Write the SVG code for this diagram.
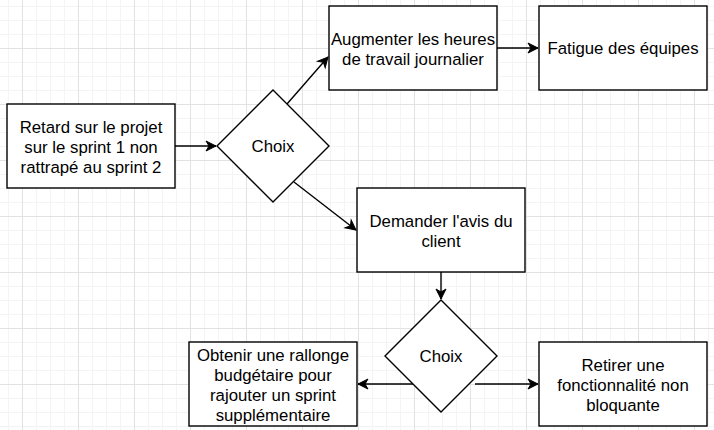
<svg xmlns="http://www.w3.org/2000/svg" width="714" height="430" viewBox="0 0 714 430">
<style>
  .box { fill: #ffffff; stroke: #000000; stroke-width: 1.4; }
  .lbl { font-family: "Liberation Sans", Arial, sans-serif; font-size: 16.8px; fill: #000000; text-anchor: middle; }
  .edge { fill: none; stroke: #000000; stroke-width: 1.4; marker-end: url(#arrow); }
</style>
<defs>
  <pattern id="grid" patternUnits="userSpaceOnUse" x="22" y="48" width="56" height="56">
    <rect x="14" y="0" width="1" height="56" fill="#f4f4f4"/>
    <rect x="28" y="0" width="1" height="56" fill="#f4f4f4"/>
    <rect x="42" y="0" width="1" height="56" fill="#f4f4f4"/>
    <rect x="0" y="14" width="56" height="1" fill="#f4f4f4"/>
    <rect x="0" y="28" width="56" height="1" fill="#f4f4f4"/>
    <rect x="0" y="42" width="56" height="1" fill="#f4f4f4"/>
    <rect x="0" y="0" width="1" height="56" fill="#e2e2e2"/>
    <rect x="0" y="0" width="56" height="1" fill="#e2e2e2"/>
  </pattern>
  <marker id="arrow" markerUnits="userSpaceOnUse" markerWidth="11" markerHeight="11" refX="10" refY="5" orient="auto" overflow="visible">
    <path d="M0,0 L10,5 L0,10 L3,5 Z" fill="#000000" stroke="#000000" stroke-width="1"/>
  </marker>
</defs>
<rect x="0" y="0" width="714" height="430" fill="#ffffff"/>
<rect x="0" y="0" width="714" height="430" fill="url(#grid)"/>

<g id="connectors">
  <line class="edge" x1="175" y1="146" x2="216" y2="146"/>
  <line class="edge" x1="287" y1="104" x2="328" y2="57"/>
  <line class="edge" x1="497" y1="48" x2="538" y2="48"/>
  <line class="edge" x1="294" y1="182" x2="356" y2="230"/>
  <line class="edge" x1="441" y1="272" x2="441" y2="299"/>
  <line class="edge" x1="413" y1="384" x2="358" y2="384"/>
  <line class="edge" x1="475" y1="384" x2="538" y2="384"/>
</g>

<g id="retard">
  <rect class="box" x="7" y="104" width="168" height="84"/>
  <text class="lbl" x="91" y="133">Retard sur le projet</text>
  <text class="lbl" x="91" y="153">sur le sprint 1 non</text>
  <text class="lbl" x="91" y="173">rattrapé au sprint 2</text>
</g>

<g id="choix1">
  <polygon class="box" points="273,90 329,146 273,202 217,146"/>
  <text class="lbl" x="273" y="152">Choix</text>
</g>

<g id="augmenter">
  <rect class="box" x="329" y="6" width="168" height="84"/>
  <text class="lbl" x="413" y="45">Augmenter les heures</text>
  <text class="lbl" x="413" y="65">de travail journalier</text>
</g>

<g id="fatigue">
  <rect class="box" x="539" y="6" width="168" height="84"/>
  <text class="lbl" x="623" y="54">Fatigue des équipes</text>
</g>

<g id="demander">
  <rect class="box" x="357" y="188" width="168" height="84"/>
  <text class="lbl" x="441" y="227">Demander l'avis du</text>
  <text class="lbl" x="441" y="247">client</text>
</g>

<g id="choix2">
  <polygon class="box" points="441,300 497,356 441,412 385,356"/>
  <text class="lbl" x="441" y="362">Choix</text>
</g>

<g id="obtenir">
  <rect class="box" x="189" y="342" width="168" height="84"/>
  <text class="lbl" x="273" y="361">Obtenir une rallonge</text>
  <text class="lbl" x="273" y="381">budgétaire pour</text>
  <text class="lbl" x="273" y="401">rajouter un sprint</text>
  <text class="lbl" x="273" y="421">supplémentaire</text>
</g>

<g id="retirer">
  <rect class="box" x="539" y="342" width="168" height="84"/>
  <text class="lbl" x="623" y="371">Retirer une</text>
  <text class="lbl" x="623" y="391">fonctionnalité non</text>
  <text class="lbl" x="623" y="411">bloquante</text>
</g>
</svg>
